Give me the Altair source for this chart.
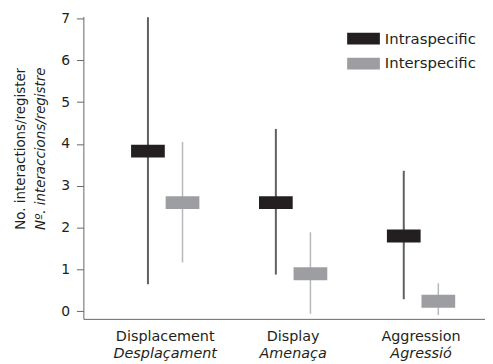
import altair as alt
import pandas as pd

categories = ["Displacement", "Display", "Aggression"]
categories_ca = ["Desplaçament", "Amenaça", "Agressió"]
types = ["Intraspecific", "Interspecific"]

intra_mean = [3.83, 2.60, 1.80]
intra_low = [0.65, 0.88, 0.29]
intra_high = [7.03, 4.36, 3.36]

inter_mean = [2.60, 0.90, 0.24]
inter_low = [1.17, -0.06, -0.09]
inter_high = [4.05, 1.89, 0.67]

rows = []
for i, c in enumerate(categories):
    rows.append({"cat": c, "type": types[0], "mean": intra_mean[i], "low": intra_low[i], "high": intra_high[i]})
    rows.append({"cat": c, "type": types[1], "mean": inter_mean[i], "low": inter_low[i], "high": inter_high[i]})
df = pd.DataFrame(rows)

FONT = "DejaVu Sans"
xscale = alt.Scale(domain=categories, paddingInner=0, paddingOuter=0.07, align=1)
xoff = alt.XOffset("type:N", sort=types, scale=alt.Scale(domain=types, paddingInner=0, paddingOuter=0.85))
yscale = alt.Scale(domain=[-0.18, 7.05], nice=False, zero=False)

ca_map = " : ".join(f"datum.value == '{e}' ? '{c}'" for e, c in zip(categories, categories_ca)) + " : ''"
is_intra = f"datum.type == '{types[0]}'"

rules = alt.Chart(df).mark_rule().encode(
    x=alt.X("cat:N", sort=categories, scale=xscale,
            axis=alt.Axis(orient="bottom", title=None, domain=False, ticks=False, labelAngle=0,
                          labelPadding=28, labelExpr=ca_map, labelFontStyle="italic",
                          labelFont=FONT, labelFontSize=14.5, labelColor="#231f20")),
    xOffset=xoff,
    y=alt.Y("low:Q", scale=yscale,
            axis=alt.Axis(orient="left", labels=False, ticks=False, domain=False, grid=False,
                          title="Nº. interaccions/registre", titleFontStyle="italic",
                          titleFont=FONT, titleFontSize=13.5, titleFontWeight="normal",
                          titleColor="#231f20", titleX=-43, titleY=133,
                          titleAngle=-90, titleAlign="center", titleBaseline="middle")),
    y2="high:Q",
    stroke=alt.condition(is_intra, alt.value("#5f5f5f"), alt.value("#b8b8bc")),
    strokeWidth=alt.condition(is_intra, alt.value(2), alt.value(1.5)),
)

boxes = alt.Chart(df).mark_tick(orient="horizontal", size=34, thickness=13, opacity=1).encode(
    x=alt.X("cat:N", sort=categories, scale=xscale,
            axis=alt.Axis(orient="bottom", title=None, domain=True, ticks=False, labelAngle=0,
                          labelPadding=11, labelFont=FONT, labelFontSize=14.5, labelColor="#231f20",
                          domainColor="#666666", domainWidth=1)),
    xOffset=xoff,
    y=alt.Y("mean:Q", scale=yscale,
            axis=alt.Axis(orient="left", values=list(range(0, 8)), grid=False,
                          title="No. interactions/register", titleFont=FONT, titleFontSize=13.5,
                          titleFontWeight="normal", titleColor="#231f20", titleX=-63, titleY=133,
                          titleAngle=-90, titleAlign="center", titleBaseline="middle",
                          labelFont=FONT, labelFontSize=14, labelColor="#231f20", labelPadding=7,
                          tickSize=7, tickColor="#666666", domainColor="#666666")),
    color=alt.Color("type:N", sort=types,
                    scale=alt.Scale(domain=types, range=["#231f20", "#9d9ea1"]),
                    legend=alt.Legend(title=None, orient="none", legendX=266, legendY=6,
                                      symbolType="M-1,-0.36L1,-0.36L1,0.36L-1,0.36Z", symbolSize=1089,
                                      symbolStrokeWidth=0, symbolOpacity=1, labelFont=FONT, labelFontSize=15,
                                      labelColor="#231f20", labelOffset=5, rowPadding=-9)),
)

chart = alt.layer(rules, boxes).resolve_axis(x="independent", y="independent").properties(
    width=405, height=305, padding={"left": 5, "top": 2, "right": 0, "bottom": 0}
).configure_view(stroke=None)

chart.save("out.html", embed_options={"renderer": "svg", "actions": False})
